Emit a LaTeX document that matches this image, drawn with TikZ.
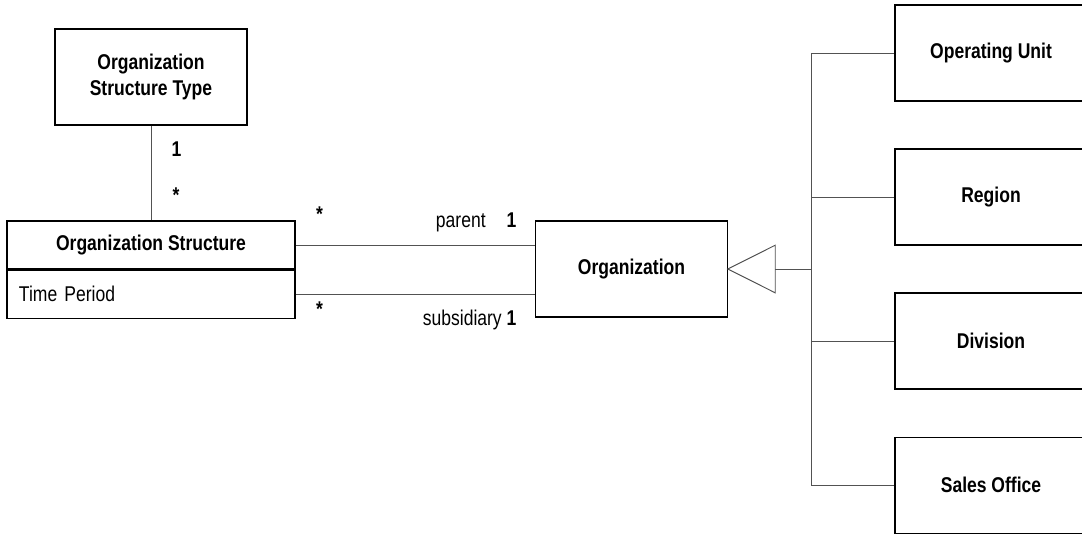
\documentclass[tikz,border=0pt]{standalone}
\usepackage{fontspec}
\setmainfont{Liberation Sans}[FakeStretch=0.82] % Narrow sans, as in the drawing
\usepackage{tikz}
\usetikzlibrary{positioning, arrows.meta}
\tikzset{node distance=3.6cm, % Centre to centre distance of the subclasses
every node/.style={ % Sets the text of every node
font=\fontsize{15.2pt}{18.5pt}\selectfont},
cls/.style={ % Sets the properties for each class box
draw=black, line width=0.85pt,
minimum width=4.8cm, minimum height=2.4cm,
inner sep=0pt, align=center,
font=\fontsize{15.2pt}{18.5pt}\selectfont\bfseries},
attr/.style={ % Attribute compartment of a class
draw=black, line width=0.85pt,
text width=6.6cm, minimum height=1.2cm,
inner xsep=0.3cm, inner ysep=0pt, align=left},
assoc/.style={ % Sets the properties for each connector
draw=black!68, line width=0.7pt},
mult/.style={ % Multiplicities
inner sep=0pt, font=\fontsize{15.2pt}{18.5pt}\selectfont\bfseries},
role/.style={ % Role names
inner sep=0pt}}

\begin{document}
\begin{tikzpicture}[x=0.025cm, y=-0.025cm]

    \useasboundingbox (0,0) rectangle (1082,533);
    \clip (0,0) rectangle (1082,533);

    \node[cls] (ost) at (151,77) {Organization\\Structure Type};
    \node[cls, minimum width=7.2cm, minimum height=1.2cm] (os) at (151,245) {Organization Structure};
    \node[attr, below=0pt of os] (osattr) {Time Period};
    \node[cls] (org) at (631.5,269) {Organization};

    \node[cls] (ou) at (991,53) {Operating Unit};
    \node[cls, below of=ou] (rg) {Region};
    \node[cls, below of=rg] (dv) {Division};
    \node[cls, below of=dv] (so) {Sales Office};

    \coordinate (trunk) at (811,269);

    \draw[assoc] (ost) -- node[mult, pos=0.33, anchor=base west, xshift=0.5cm] {1}
        node[mult, pos=0.81, anchor=base west, xshift=0.53cm] {*} (os);

    \draw[assoc] (os.east) -- (os.east -| org.west)
        node[mult, pos=0, anchor=base west, xshift=0.5cm, yshift=0.59cm] {*}
        node[role, pos=1, anchor=base east, xshift=-0.45cm, yshift=0.4375cm] {parent\hspace{0.525cm}\textbf{1}};
    \draw[assoc] (osattr.east) -- (osattr.east -| org.west)
        node[mult, pos=0, anchor=base west, xshift=0.5cm, yshift=-0.56cm] {*}
        node[role, pos=1, anchor=base east, xshift=-0.45cm, yshift=-0.77cm] {subsidiary \textbf{1}};

    \draw[assoc, shorten >=-1pt, -{Triangle[open, length=1.225cm, width=1.225cm, line width=0.7pt]}] (trunk) -- (org.east);
    \foreach \sub in {ou, rg, dv, so}
        \draw[assoc] (trunk) |- (\sub.west);

\end{tikzpicture}
\end{document}
